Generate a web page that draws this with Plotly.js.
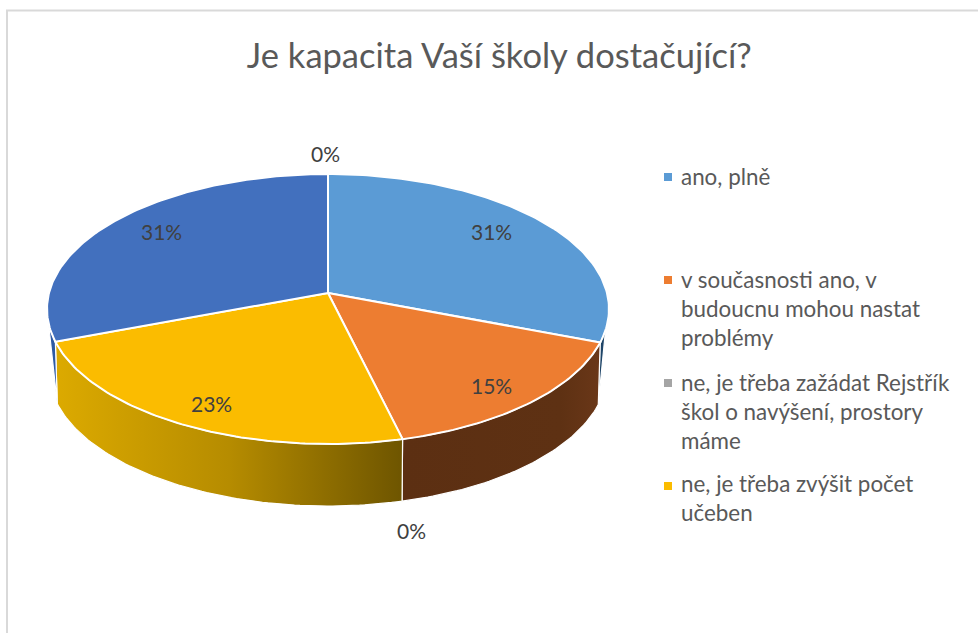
<!DOCTYPE html>
<html><head><meta charset="utf-8">
<script src="https://cdn.plot.ly/plotly-3.0.1.min.js"></script>
<style>html,body{margin:0;padding:0;background:#fff}</style></head>
<body><div id="chart" style="width:978px;height:633px"></div>
<script>
// ---- data ----
const chartTitle = "Je kapacita Vaší školy dostačující?";
const shares = [30.8, 15.4, 0, 23.1, 30.7, 0];
const percentLabels = ["31%", "15%", "0%", "23%", "31%", "0%"];
const legendNames = ["ano, plně", "v současnosti ano, v<br>budoucnu mohou nastat<br>problémy", "ne, je třeba zažádat Rejstřík<br>škol o navýšení, prostory<br>máme", "ne, je třeba zvýšit počet<br>učeben"];

// ---- styles and placement ----
const topColors = ["#5b9bd5", "#ed7d31", "#a5a5a5", "#fbbc00", "#4270be", "#264478"];
const wallScales = [
  [[0,"#1f4568"],[1,"#1f4568"]],
  [[0,"#5c2f12"],[0.8,"#5e3113"],[1,"#6a3718"]],
  [[0,"#777777"],[1,"#777777"]],
  [[0,"#dcaa00"],[0.5,"#b68c00"],[1,"#6e5500"]],
  [[0,"#2d5aa4"],[1,"#2d5aa4"]],
  [[0,"#264478"],[1,"#264478"]]
];
const labelX = [491, 491, 411, 211, 161, 325];
const labelY = [231, 385, 530, 403, 231, 153];
const legendMarkerX = [668, 668, 668, 668];
const legendMarkerY = [177, 280, 383, 486];
const legendTextX = 679;
const legendTextY = [176, 308, 411, 498];
const centerX = 328, centerY = 293, A = 279, B = 133.1, K = 0.1186;
const depth = 62, bottomScale = 0.993;
const backFrom = 105.7, backTo = 254.3 + 8.6;

function rim(deg, low) {
  const t = deg * Math.PI / 180, u = Math.sin(t), v = Math.cos(t), w = 1 + K * v;
  const s = low ? bottomScale : 1;
  return [centerX + s * A * u / w, centerY - B * v / w + (low ? depth : 0)];
}
function arc(a, b, low) {
  const pts = [], n = Math.max(2, Math.ceil(Math.abs(b - a)));
  for (let i = 0; i <= n; i++) pts.push(rim(a + (b - a) * i / n, low));
  return pts;
}
const total = shares.reduce((p, c) => p + c, 0);
const walls = [], faces = [];
let acc = 0;
shares.forEach((s, i) => {
  const a = acc / total * 360, b = (acc + s) / total * 360;
  acc += s;
  if (s <= 0) return;
  const pts = [[centerX, centerY]].concat(arc(a, b, false));
  pts.push([centerX, centerY]);
  faces.push({type: "scatter", mode: "lines", x: pts.map(p => p[0]), y: pts.map(p => p[1]),
    fill: "toself", fillcolor: topColors[i], line: {color: "#ffffff", width: 2}, showlegend: false, hoverinfo: "skip"});
  const wa = Math.max(a, backFrom), wb = Math.min(b, backTo);
  if (wb > wa) {
    const top = arc(wa, wb, false);
    const low = (wa === a && wb === b) || (wa > backFrom && wb < backTo) ? arc(wb, wa, true)
      : (wa === backFrom ? arc(wb, wb, true).slice(0, 1) : arc(wa, wa, true).slice(0, 1));
    const w = top.concat(low);
    w.push(top[0]);
    walls.push({type: "scatter", mode: "lines", x: w.map(p => p[0]), y: w.map(p => p[1]),
      fill: "toself", fillgradient: {type: "horizontal", colorscale: wallScales[i]},
      line: {color: "#ffffff", width: 1.2}, showlegend: false, hoverinfo: "skip"});
  }
});
const markers = {type: "scatter", mode: "markers", x: legendMarkerX, y: legendMarkerY,
  marker: {symbol: "square", size: 8, color: topColors.slice(0, 4)}, showlegend: false, hoverinfo: "skip"};

const FONT = "Lato, Carlito, Calibri, sans-serif";
const annotations = [];
percentLabels.forEach((t, i) => annotations.push({x: labelX[i], y: labelY[i], xref: "x", yref: "y", text: t,
  showarrow: false, xanchor: "center", yanchor: "middle", font: {family: FONT, size: 21, color: "#404040"}}));
legendNames.forEach((t, i) => annotations.push({x: legendTextX, y: legendTextY[i], xref: "x", yref: "y", text: t,
  showarrow: false, xanchor: "left", yanchor: "middle", align: "left", font: {family: FONT, size: 22.4, color: "#595959"}}));

Plotly.newPlot("chart", walls.concat(faces, [markers]), {
  width: 978, height: 633, autosize: false,
  margin: {l: 0, r: 0, t: 0, b: 0},
  paper_bgcolor: "#ffffff", plot_bgcolor: "#ffffff",
  title: {text: chartTitle, x: 0.5105, xanchor: "center", y: 0.912, yanchor: "middle", font: {family: FONT, size: 34.5, color: "#595959"}},
  xaxis: {range: [0, 978], visible: false, fixedrange: true},
  yaxis: {range: [633, 0], visible: false, fixedrange: true},
  shapes: [{type: "rect", xref: "x", yref: "y", x0: 7, y0: 10.5, x1: 1000, y1: 700, line: {color: "#d9d9d9", width: 2}, layer: "below"}],
  annotations: annotations,
  showlegend: false
}, {displayModeBar: false, staticPlot: true});
</script></body></html>
